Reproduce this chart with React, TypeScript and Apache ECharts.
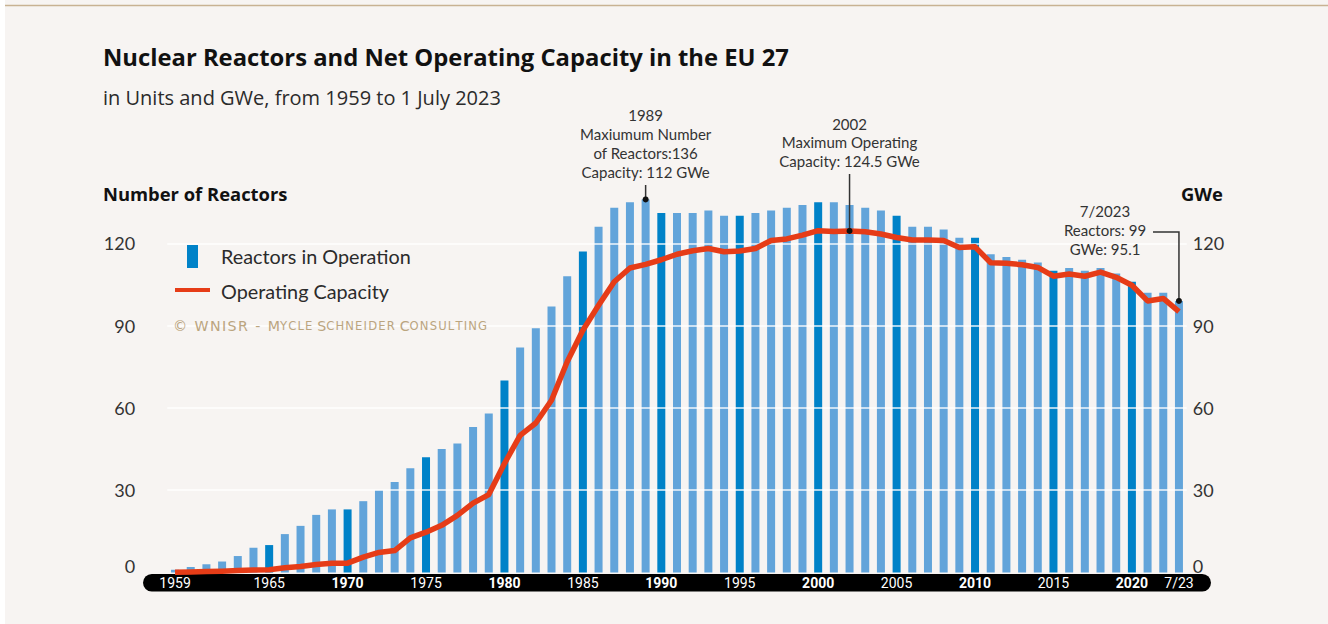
import React, { useEffect, useRef } from "react";
import * as echarts from "echarts";

const categories = [
  "1959", "1960", "1961", "1962", "1963", "1964", "1965", "1966", "1967", "1968",
  "1969", "1970", "1971", "1972", "1973", "1974", "1975", "1976", "1977", "1978",
  "1979", "1980", "1981", "1982", "1983", "1984", "1985", "1986", "1987", "1988",
  "1989", "1990", "1991", "1992", "1993", "1994", "1995", "1996", "1997", "1998",
  "1999", "2000", "2001", "2002", "2003", "2004", "2005", "2006", "2007", "2008",
  "2009", "2010", "2011", "2012", "2013", "2014", "2015", "2016", "2017", "2018",
  "2019", "2020", "2021", "2022", "7/23",
];

const reactors = [
  1, 2, 3, 4, 6, 9, 10, 14, 17, 21,
  23, 23, 26, 30, 33, 38, 42, 45, 47, 53,
  58, 70, 82, 89, 97, 108, 117, 126, 133, 135,
  136, 131, 131, 131, 132, 130, 130, 131, 132, 133,
  134, 135, 135, 134, 133, 132, 130, 126, 126, 125,
  122, 122, 116, 115, 114, 113, 110, 111, 110, 111,
  109, 106, 102, 102, 99,
];

const capacity = [
  0.1, 0.2, 0.4, 0.5, 0.7, 0.9, 1.0, 1.7, 2.2, 2.9,
  3.4, 3.4, 5.6, 7.3, 8.0, 12.6, 14.7, 17.2, 20.8, 25.3,
  28.4, 39.7, 50.0, 54.5, 62.8, 76.8, 88.3, 97.4, 106.0, 111.0,
  112.3, 114.0, 116.0, 117.3, 118.1, 116.9, 117.2, 118.1, 121.0, 121.6,
  123.0, 124.6, 124.3, 124.5, 124.2, 123.4, 122.1, 121.2, 121.2, 121.0,
  118.5, 118.7, 112.9, 112.7, 112.2, 111.2, 108.0, 108.8, 108.0, 109.5,
  107.6, 104.7, 99.0, 99.9, 95.1,
];

const highlightYears = ["1965", "1970", "1975", "1980", "1985", "1990", "1995", "2000", "2005", "2010", "2015", "2020"];
const shownLabels = ["1959", "1965", "1970", "1975", "1980", "1985", "1990", "1995", "2000", "2005", "2010", "2015", "2020", "7/23"];
const boldLabels = ["1970", "1980", "1990", "2000", "2010", "2020"];
const gridValues = [30, 60, 90, 120];

const BG = "#f7f4f2";
const LIGHT = "#62a4da";
const DARK = "#0082c8";
const RED = "#e63c17";
const TXT = "#2b2b2b";

const spaced = (s: string) => s.split("").join("\u200A");

export default function App() {
  const ref = useRef<HTMLDivElement>(null);

  useEffect(() => {
    if (!ref.current) return;
    const chart = echarts.init(ref.current, undefined, { renderer: "svg" });

    const yLabel = (margin: number) => ({
      margin,
      color: "#333",
      fontFamily: "Lato",
      fontSize: 18,
      formatter: (v: number) => (v === 150 ? "" : v === 0 ? "{z|0}" : String(v)),
      rich: { z: { padding: [0, 0, 14, 0], color: "#333", fontFamily: "Lato", fontSize: 18 } },
    });

    chart.setOption({
      animation: false,
      backgroundColor: BG,
      grid: { left: 167.2, right: 141.2, top: 161, bottom: 51.5, containLabel: false },
      xAxis: {
        type: "category",
        data: categories,
        boundaryGap: true,
        z: 10,
        axisLine: { show: false },
        axisTick: { show: false },
        axisLabel: {
          interval: (_i: number, v: string) => shownLabels.includes(v),
          margin: 3,
          verticalAlign: "top",
          color: "#ffffff",
          fontFamily: "Roboto",
          fontSize: 14,
          formatter: (v: string) => (boldLabels.includes(v) ? `{b|${v}}` : v),
          rich: { b: { fontWeight: "bold", color: "#ffffff", fontFamily: "Roboto", fontSize: 14 } },
        },
      },
      yAxis: [
        {
          type: "value", min: 0, max: 150, interval: 30, position: "left",
          splitLine: { show: false }, axisLine: { show: false }, axisTick: { show: false },
          axisLabel: yLabel(32),
        },
        {
          type: "value", min: 0, max: 150, interval: 30, position: "right",
          splitLine: { show: false }, axisLine: { show: false }, axisTick: { show: false },
          axisLabel: yLabel(6),
        },
      ],
      series: [
        {
          type: "bar",
          name: "Reactors in Operation",
          z: 2,
          barWidth: 8,
          data: reactors.map((v, i) => ({
            value: v,
            itemStyle: { color: highlightYears.includes(categories[i]) ? DARK : LIGHT },
          })),
          markLine: {
            silent: true,
            symbol: "none",
            label: { show: false },
            lineStyle: { color: "#ffffff", width: 1.5, type: "solid", opacity: 0.9 },
            data: gridValues.map((g) => ({ yAxis: g })),
          },
        },
        {
          type: "line",
          name: "Operating Capacity",
          yAxisIndex: 1,
          z: 5,
          data: capacity,
          showSymbol: false,
          symbol: "none",
          lineStyle: { color: RED, width: 5.5, join: "round" },
        },
      ],
    });

    const i1989 = categories.indexOf("1989");
    const i2002 = categories.indexOf("2002");
    const iLast = categories.length - 1;
    const p1989 = chart.convertToPixel({ seriesIndex: 0 }, [i1989, reactors[i1989]]) as number[];
    const p2002 = chart.convertToPixel({ seriesIndex: 1 }, [i2002, capacity[i2002]]) as number[];
    const pLast = chart.convertToPixel({ seriesIndex: 0 }, [iLast, reactors[iLast]]) as number[];

    const annoFont = { fontFamily: "Lato", fontSize: 15, fill: "#333", lineHeight: 19, align: "center", verticalAlign: "top" };

    chart.setOption({
      graphic: [
        { type: "rect", z: 0, shape: { x: 0, y: 0, width: 5, height: 624 }, style: { fill: "#ffffff" } },
        { type: "line", z: 1, shape: { x1: 5, y1: 5.5, x2: 1328, y2: 5.5 }, style: { stroke: "#c8b292", lineWidth: 1.5 } },
        { type: "rect", z: 1, shape: { x: 143, y: 574, width: 1068, height: 17.5, r: 8.75 }, style: { fill: "#000000" } },
        {
          type: "text", z: 20, x: 103, y: 57,
          style: { text: "Nuclear Reactors and Net Operating Capacity in the EU 27", fontFamily: "Open Sans", fontWeight: "bold", fontSize: 23.8, fill: "#111", verticalAlign: "middle" },
        },
        {
          type: "text", z: 20, x: 103, y: 97,
          style: { text: "in Units and GWe, from 1959 to 1 July 2023", fontFamily: "Open Sans", fontSize: 20, fill: TXT, verticalAlign: "middle" },
        },
        {
          type: "text", z: 20, x: 103, y: 193,
          style: { text: "Number of Reactors", fontFamily: "Open Sans", fontWeight: "bold", fontSize: 18.4, fill: "#111", verticalAlign: "middle" },
        },
        {
          type: "text", z: 20, x: 1181, y: 193,
          style: { text: "GWe", fontFamily: "Open Sans", fontWeight: "bold", fontSize: 18.4, fill: "#111", verticalAlign: "middle" },
        },
        { type: "rect", z: 20, shape: { x: 187, y: 245, width: 11, height: 23 }, style: { fill: DARK } },
        {
          type: "text", z: 20, x: 221, y: 256,
          style: { text: "Reactors in Operation", fontFamily: "Lato", fontSize: 19.8, fill: TXT, verticalAlign: "middle" },
        },
        { type: "line", z: 20, shape: { x1: 175, y1: 290, x2: 210, y2: 290 }, style: { stroke: RED, lineWidth: 4 } },
        {
          type: "text", z: 20, x: 221, y: 291,
          style: { text: "Operating Capacity", fontFamily: "Lato", fontSize: 19.8, fill: TXT, verticalAlign: "middle" },
        },
        {
          type: "text", z: 20, x: 173, y: 326,
          style: {
            text: `{b|${spaced("© WNISR - M")}}{s|${spaced("YCLE ")}}{b|S}{s|${spaced("CHNEIDER ")}}{b|C}{s|${spaced("ONSULTING")}}`,
            verticalAlign: "middle",
            rich: {
              b: { fontFamily: "DejaVu Sans", fontSize: 14.2, fill: "#bba57f" },
              s: { fontFamily: "DejaVu Sans", fontSize: 11.6, fill: "#bba57f" },
            },
          },
        },
        // 1989 annotation
        {
          type: "text", z: 20, x: p1989[0], y: 105.5,
          style: { ...annoFont, text: "1989\nMaxiumum Number\nof Reactors:136\nCapacity: 112 GWe" },
        },
        { type: "line", z: 20, shape: { x1: p1989[0], y1: 185, x2: p1989[0], y2: p1989[1] }, style: { stroke: "#333", lineWidth: 1.5 } },
        { type: "circle", z: 21, shape: { cx: p1989[0], cy: p1989[1], r: 3 }, style: { fill: "#111" } },
        // 2002 annotation
        {
          type: "text", z: 20, x: p2002[0], y: 114.5,
          style: { ...annoFont, text: "2002\nMaximum Operating\nCapacity: 124.5 GWe", lineHeight: 18.5 },
        },
        { type: "line", z: 20, shape: { x1: p2002[0], y1: 174, x2: p2002[0], y2: p2002[1] }, style: { stroke: "#333", lineWidth: 1.5 } },
        { type: "circle", z: 21, shape: { cx: p2002[0], cy: p2002[1], r: 3 }, style: { fill: "#111" } },
        // 7/2023 annotation
        {
          type: "text", z: 20, x: 1105, y: 201.5,
          style: { ...annoFont, text: "7/2023\nReactors: 99\nGWe: 95.1" },
        },
        {
          type: "polyline", z: 20,
          shape: { points: [[1153, 232], [pLast[0], 232], [pLast[0], pLast[1]]] },
          style: { stroke: "#333", lineWidth: 1.5, fill: "none" },
        },
        { type: "circle", z: 21, shape: { cx: pLast[0], cy: pLast[1], r: 3 }, style: { fill: "#111" } },
      ],
    });

    return () => chart.dispose();
  }, []);

  return (
    <div
      ref={ref}
      style={{ position: "absolute", left: 0, top: 0, width: 1328, height: 624 }}
    />
  );
}
